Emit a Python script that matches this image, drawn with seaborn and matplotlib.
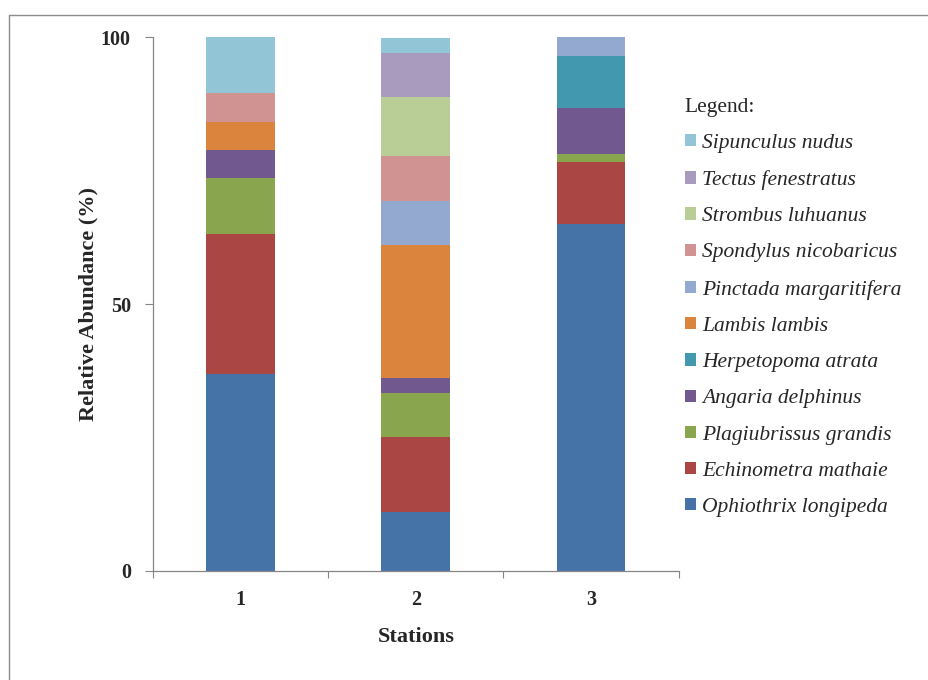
import matplotlib
matplotlib.use("Agg")
import matplotlib.pyplot as plt
from matplotlib.patches import Patch
from matplotlib.lines import Line2D
import seaborn as sns
import pandas as pd
import numpy as np

stations = ["1", "2", "3"]
species = [
    "Ophiothrix longipeda",
    "Echinometra mathaie",
    "Plagiubrissus grandis",
    "Angaria delphinus",
    "Herpetopoma atrata",
    "Lambis lambis",
    "Pinctada margaritifera",
    "Spondylus nicobaricus",
    "Strombus luhuanus",
    "Tectus fenestratus",
    "Sipunculus nudus",
]
ophiothrix = [36.8, 11.1, 65.0]
echinometra = [26.3, 13.9, 11.6]
plagiubrissus = [10.5, 8.3, 1.5]
angaria = [5.3, 2.8, 8.6]
herpetopoma = [0.0, 0.0, 9.8]
lambis = [5.3, 25.0, 0.0]
pinctada = [0.0, 8.3, 3.5]
spondylus = [5.3, 8.3, 0.0]
strombus = [0.0, 11.1, 0.0]
tectus = [0.0, 8.3, 0.0]
sipunculus = [10.5, 2.8, 0.0]
series = [ophiothrix, echinometra, plagiubrissus, angaria, herpetopoma, lambis,
          pinctada, spondylus, strombus, tectus, sipunculus]
colors = ["#4572A7", "#AA4643", "#89A54E", "#71588F", "#4198AF", "#DB843D",
          "#93A9CF", "#D19392", "#B9CD96", "#A99BBD", "#92C5D5"]

rows = []
for sp, vals in zip(species, series):
    for st, v in zip(stations, vals):
        rows.append({"Station": st, "Species": sp, "Value": v})
df = pd.DataFrame(rows)

sns.set_style("white")
plt.rcParams["font.family"] = ["Liberation Serif", "DejaVu Serif"]

fig = plt.figure(figsize=(9.29, 6.8), dpi=100)
ax = fig.add_axes([0.1647, 0.1607, 0.5657, 0.7842])

bottom = np.zeros(len(stations))
for sp, col in zip(species, colors):
    sub = df[df["Species"] == sp].set_index("Station").loc[stations].reset_index()
    sns.barplot(data=sub, x="Station", y="Value", order=stations, color=col,
                width=0.393, bottom=bottom, ax=ax, errorbar=None,
                saturation=1, edgecolor="none", linewidth=0)
    bottom = bottom + sub["Value"].to_numpy()

ax.set_xlim(-0.5, 2.5)
ax.set_ylim(0, 100)
ax.set_yticks([0, 50, 100])
ax.set_yticklabels(["0", "50", "100"], fontsize=14.5, fontweight="bold")
ax.set_xticks([0, 1, 2])
ax.set_xticklabels(stations, fontsize=14.5, fontweight="bold")
ax.set_xticks([-0.5, 0.5, 1.5, 2.5], minor=True)
ax.tick_params(axis="x", which="major", length=0, pad=14)
ax.tick_params(axis="x", which="minor", length=5, width=0.8, color="#868686", direction="out", bottom=True)
ax.tick_params(axis="y", which="major", length=6, width=0.8, color="#868686", direction="out", left=True, pad=10)
for s in ["top", "right"]:
    ax.spines[s].set_visible(False)
for s in ["left", "bottom"]:
    ax.spines[s].set_color("#868686")
    ax.spines[s].set_linewidth(0.9)
ax.set_xlabel("Stations", fontsize=16, fontweight="bold", labelpad=12)
ax.set_ylabel("Relative Abundance (%)", fontsize=16, fontweight="bold", labelpad=2)

handles = [Patch(facecolor=c, edgecolor="none") for c in colors][::-1]
labels = species[::-1]
leg = fig.legend(handles, labels, loc="upper left", bbox_to_anchor=(0.728, 0.869),
                 frameon=False, title="Legend:", alignment="left",
                 prop={"family": "Liberation Serif", "style": "italic", "size": 15.5},
                 title_fontproperties={"family": "Liberation Serif", "size": 15.5},
                 handlelength=0.5, handleheight=0.5, handletextpad=0.3,
                 labelspacing=0.8, borderaxespad=0)

# outer chart-area border
fig.add_artist(Line2D([9/929, 1.0], [1 - 15/680, 1 - 15/680], transform=fig.transFigure,
                      color="#8c8c8c", linewidth=1.0))
fig.add_artist(Line2D([9/929, 9/929], [0.0, 1 - 15/680], transform=fig.transFigure,
                      color="#8c8c8c", linewidth=1.0))

fig.savefig("out.png", dpi=100)
